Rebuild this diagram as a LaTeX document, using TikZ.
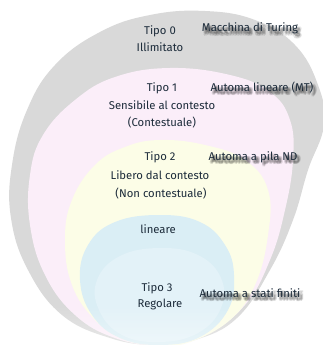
\documentclass[tikz,border=0pt]{standalone}
\usepackage{fontspec}
\setmainfont{Fira Sans}
\usetikzlibrary{fadings}

\definecolor{outergray}{HTML}{D9D9D9}
\definecolor{ctxpink}{HTML}{FBEEF9}
\definecolor{freecream}{HTML}{FCFDE7}
\definecolor{regblue}{HTML}{DAEEF5}
\definecolor{regbluelight}{HTML}{E3F2F8}
\definecolor{inkblue}{HTML}{1C2B3A}

\tikzset{
  lbl/.style={font=\fontsize{11.3}{13}\selectfont, text=inkblue, inner sep=0pt, anchor=base},
  shadowcopy/.style={lbl, text=black, text opacity=0.085}
}

% machine label with a soft, blurred drop shadow: name, x, y, text
\newcommand\shadowlabel[4]{%
  \foreach \dx/\dy [count=\k] in {1/2,2/2,3/2,4/2.5,1/3.5,2.5/3,4/3.5,1.5/4.5,3/4.5,2.5/4,2/3,3/3}
    \node[shadowcopy] (#1-s\k) at (#2+\dx,#3+\dy) {#4};
  \node[lbl] (#1) at (#2,#3) {#4};
}

\begin{document}
\begin{tikzpicture}[x=1pt,y=-1pt]
\useasboundingbox (0,0) rectangle (323,345);
\fill[white] (0,0) rectangle (323,345);

% Tipo 0
\fill[outergray] plot[smooth cycle, tension=0.7] coordinates {
  (205,11) (255,20) (295,45) (318,85) (324,125) (308,170) (293,220)
  (270,270) (237,318) (195,340) (155,345) (110,338) (62,315) (28,270)
  (11,218) (12,165) (27,110) (55,65) (100,32) (150,15)};
% Tipo 1
\fill[ctxpink] plot[smooth cycle, tension=0.7] coordinates {
  (170,68) (230,75) (270,92) (290,120) (293,160) (285,210) (270,260)
  (245,305) (205,335) (160,345) (115,338) (75,315) (45,275) (30,225)
  (30,175) (43,135) (75,100) (115,77)};
% Tipo 2
\fill[freecream] plot[smooth cycle, tension=0.7] coordinates {
  (160,140) (205,145) (245,160) (268,190) (268,235) (255,285) (230,320)
  (190,342) (160,345) (125,340) (95,320) (72,285) (65,240) (72,200)
  (95,165) (125,147)};
% Tipo 3
\fill[regblue] plot[smooth cycle, tension=0.7] coordinates {
  (160,215) (200,222) (225,245) (234,275) (228,310) (200,337) (160,345)
  (120,338) (92,315) (80,280) (88,245) (115,222)};
\fill[regbluelight] plot[smooth cycle, tension=0.7] coordinates {
  (160,248) (198,255) (221,278) (221,308) (198,333) (160,342)
  (122,335) (99,310) (97,280) (120,256)};

% pale wash towards the bottom
\fill[white, path fading=north, fill opacity=0.4] (0,305) rectangle (323,345);

% class names
\node[lbl] (t0a) at (160,35) {Tipo 0};
\node[lbl] (t0b) at (160,52) {Illimitato};
\node[lbl] (t1a) at (162,91) {Tipo 1};
\node[lbl] (t1b) at (162,109) {Sensibile al contesto};
\node[lbl] (t1c) at (162,126) {(Contestuale)};
\node[lbl] (t2a) at (160,160) {Tipo 2};
\node[lbl] (t2b) at (160,179) {Libero dal contesto};
\node[lbl] (t2c) at (161,197) {(Non contestuale)};
\node[lbl] (lin) at (158,233) {lineare};
\node[lbl] (t3a) at (157,291) {Tipo 3};
\node[lbl] (t3b) at (160,307) {Regolare};

% recognising machines
\shadowlabel{m0}{250}{32}{Macchina di Turing}
\shadowlabel{m1}{262}{91}{Automa lineare (MT)}
\shadowlabel{m2}{253}{160}{Automa a pila ND}
\shadowlabel{m3}{250}{297}{Automa a stati finiti}
\end{tikzpicture}
\end{document}
